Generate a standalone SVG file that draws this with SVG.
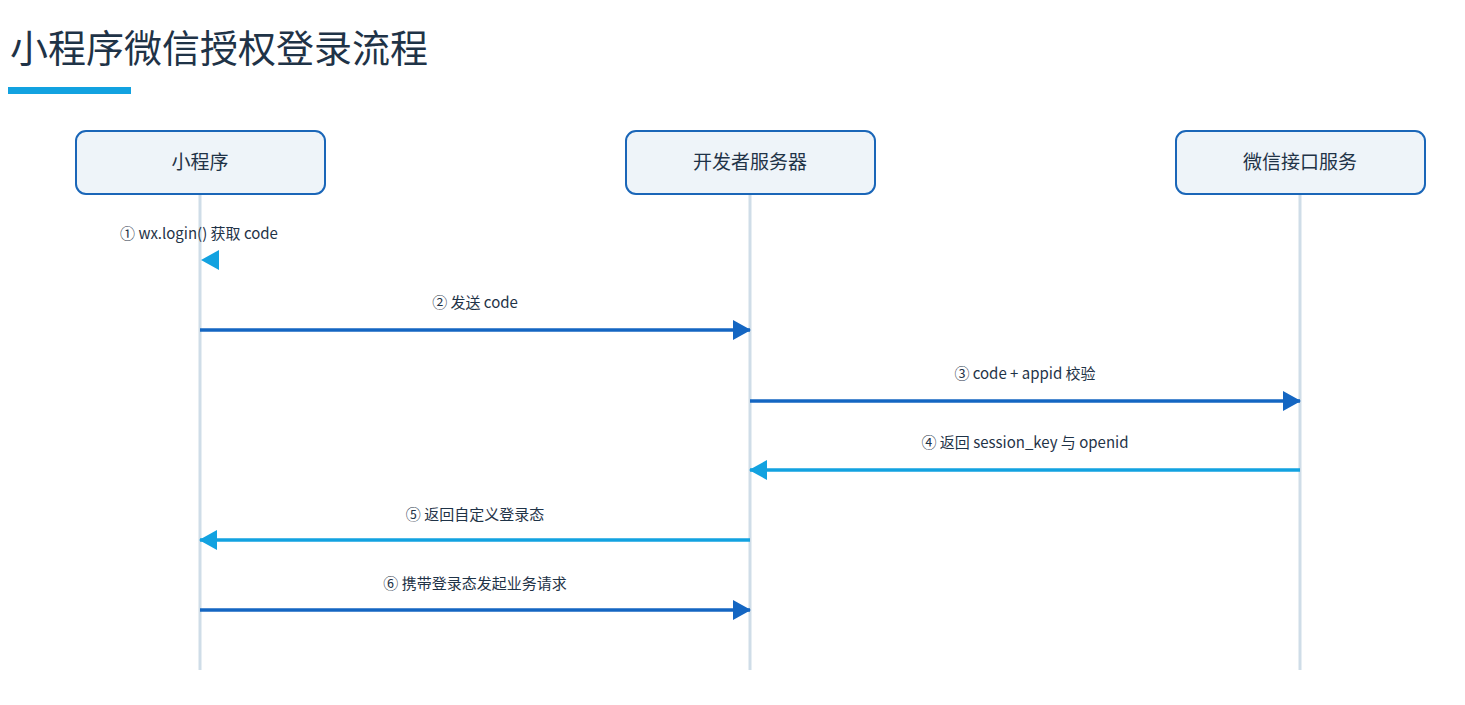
<svg xmlns="http://www.w3.org/2000/svg" width="1465" height="705" viewBox="0 0 1465 705">
<defs>
<style>
text{font-family:"Noto Sans CJK SC","Noto Sans",sans-serif;fill:#1f3347}
.box{fill:#eef4f9;stroke:#1a66b8;stroke-width:2}
.life{stroke:#cfdde8;stroke-width:3}
.lbl{font-size:15px;text-anchor:middle}
.nm{font-size:19px;text-anchor:middle}
.req{stroke:#1466c2;stroke-width:3.5;fill:none}
.res{stroke:#12a2e0;stroke-width:3.5;fill:none}
</style>
<marker id="ad" markerWidth="18" markerHeight="20" refX="17" refY="10" orient="auto" markerUnits="userSpaceOnUse"><path d="M0,0 L18,10 L0,20Z" fill="#1466c2"/></marker>
<marker id="al" markerWidth="18" markerHeight="20" refX="17" refY="10" orient="auto" markerUnits="userSpaceOnUse"><path d="M0,0 L18,10 L0,20Z" fill="#12a2e0"/></marker>
</defs>
<rect width="1465" height="705" fill="#fff"/>
<text x="10" y="62" font-size="38">小程序微信授权登录流程</text>
<rect x="8" y="87" width="123" height="7" fill="#12a2e0"/>
<g id="lifelines">
<line class="life" x1="200" y1="194" x2="200" y2="670"/>
<line class="life" x1="750" y1="194" x2="750" y2="670"/>
<line class="life" x1="1300" y1="194" x2="1300" y2="670"/>
</g>
<g id="n1"><rect class="box" x="76" y="131" width="249" height="63" rx="10"/><text class="nm" x="200" y="169">小程序</text></g>
<g id="n2"><rect class="box" x="626" y="131" width="249" height="63" rx="10"/><text class="nm" x="750" y="169">开发者服务器</text></g>
<g id="n3"><rect class="box" x="1176" y="131" width="249" height="63" rx="10"/><text class="nm" x="1300" y="169">微信接口服务</text></g>
<g id="connectors">
<path d="M219,250 L201,260 L219,270Z" fill="#12a2e0"/>
<text class="lbl" x="199" y="239">① wx.login() 获取 code</text>
<line class="req" x1="200" y1="330" x2="750" y2="330" marker-end="url(#ad)"/>
<text class="lbl" x="475" y="308">② 发送 code</text>
<line class="req" x1="750" y1="401" x2="1300" y2="401" marker-end="url(#ad)"/>
<text class="lbl" x="1025" y="379">③ code + appid 校验</text>
<line class="res" x1="1300" y1="470" x2="750" y2="470" marker-end="url(#al)"/>
<text class="lbl" x="1025" y="448">④ 返回 session_key 与 openid</text>
<line class="res" x1="750" y1="540" x2="200" y2="540" marker-end="url(#al)"/>
<text class="lbl" x="475" y="520">⑤ 返回自定义登录态</text>
<line class="req" x1="200" y1="610" x2="750" y2="610" marker-end="url(#ad)"/>
<text class="lbl" x="475" y="589">⑥ 携带登录态发起业务请求</text>
</g>
</svg>
